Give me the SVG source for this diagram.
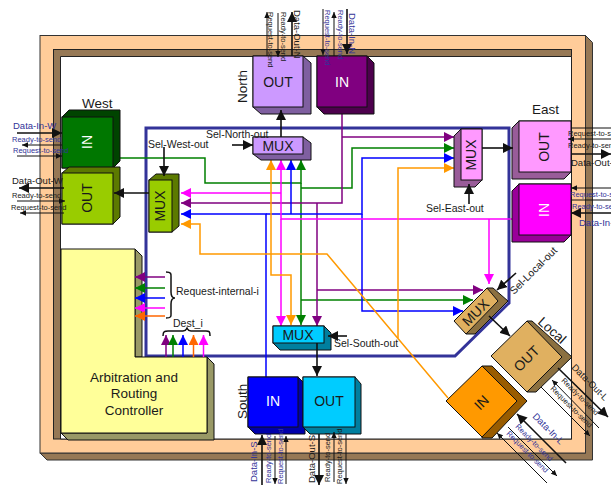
<svg xmlns="http://www.w3.org/2000/svg" width="611" height="485" viewBox="0 0 611 485">
<style>
text{font-family:"Liberation Sans",Arial,sans-serif;fill:#1a1a1a}
.s{font-size:7.5px}.d{font-size:9.500px}.b{fill:#333399}.l{font-size:10.5px}.h{font-size:13.5px}.n{font-size:14px}.m{text-anchor:middle}.w{fill:#fff}
.f,.k{stroke:#111;stroke-width:1}
.wr{fill:none;stroke-width:1.5}
.pu{stroke:#800080}.gr{stroke:#008000}.bl{stroke:#0000ff}.ma{stroke:#ff00ff}.or{stroke:#ff9900}.oo{stroke:#ff6600}
.t{fill:none;stroke:#111;stroke-width:1}.T{fill:none;stroke:#111;stroke-width:1.6}
.br{fill:none;stroke:#111;stroke-width:1.5}
</style>
<defs>
<marker id="ap" markerUnits="userSpaceOnUse" markerWidth="10" markerHeight="10" refX="10" refY="5" orient="auto"><path d="M0 0L10 5L0 10z" fill="#800080"/></marker>
<marker id="ag" markerUnits="userSpaceOnUse" markerWidth="10" markerHeight="10" refX="10" refY="5" orient="auto"><path d="M0 0L10 5L0 10z" fill="#008000"/></marker>
<marker id="ab" markerUnits="userSpaceOnUse" markerWidth="10" markerHeight="10" refX="10" refY="5" orient="auto"><path d="M0 0L10 5L0 10z" fill="#0000ff"/></marker>
<marker id="am" markerUnits="userSpaceOnUse" markerWidth="10" markerHeight="10" refX="10" refY="5" orient="auto"><path d="M0 0L10 5L0 10z" fill="#ff00ff"/></marker>
<marker id="ao" markerUnits="userSpaceOnUse" markerWidth="10" markerHeight="10" refX="10" refY="5" orient="auto"><path d="M0 0L10 5L0 10z" fill="#ff9900"/></marker>
<marker id="aO" markerUnits="userSpaceOnUse" markerWidth="10" markerHeight="10" refX="10" refY="5" orient="auto"><path d="M0 0L10 5L0 10z" fill="#ff6600"/></marker>
<marker id="a" markerUnits="userSpaceOnUse" markerWidth="6" markerHeight="6" refX="6" refY="3" orient="auto"><path d="M0 .3L6 3L0 5.7z" fill="#111"/></marker>
<marker id="A" markerUnits="userSpaceOnUse" markerWidth="10" markerHeight="10" refX="10" refY="5" orient="auto"><path d="M0 0L10 5L0 10z" fill="#111"/></marker>
</defs>
<rect width="611" height="485" fill="#fff"/>
<g id="frame">
<path d="M585.500 35.500L592.500 42.500V460H47L40 453H585.500z" fill="#967855" stroke="#333"/>
<rect x="40" y="35.500" width="545.500" height="417.500" fill="#ffcc99" stroke="#333"/>
<rect x="53.500" y="49.500" width="518" height="389.500" fill="#967855" stroke="#222"/>
<path d="M60.500 56.500H571.500V439H60.500z" fill="#fff" stroke="#222"/>
</g>
<path id="switch-border" d="M146 128H509V303L455 356H146z" fill="none" stroke="#333399" stroke-width="3"/>
<g id="controller">
<path d="M135 249L142 256V357H135zM207 357L214 364V440H68L61 433H207z" fill="#999966" stroke="#111"/>
<path d="M61 249H135V357H207V433H61z" fill="#ffff99" stroke="#111"/>
<text class="h m" x="134" y="382">Arbitration and</text>
<text class="h m" x="134" y="398">Routing</text>
<text class="h m" x="134" y="415">Controller</text>
</g>
<g id="connectors">
<path class="wr gr" d="M118 158H205V183H301V160" marker-end="url(#ag)"/>
<path class="wr gr" d="M301 183V325" marker-end="url(#ag)"/>
<path class="wr gr" d="M301 188H352V148H454" marker-end="url(#ag)"/>
<path class="wr gr" d="M301 300H473" marker-end="url(#ag)"/>
<path class="wr pu" d="M342 114V203H181" marker-end="url(#ap)"/>
<path class="wr pu" d="M342 137H454" marker-end="url(#ap)"/>
<path class="wr pu" d="M317 203V326" marker-end="url(#ap)"/>
<path class="wr pu" d="M317 290H483" marker-end="url(#ap)"/>
<path class="wr bl" d="M266 377V214H181" marker-end="url(#ab)"/>
<path class="wr bl" d="M266 214H362V158H454" marker-end="url(#ab)"/>
<path class="wr bl" d="M291 214V160" marker-end="url(#ab)"/>
<path class="wr bl" d="M362 214V311H463" marker-end="url(#ab)"/>
<path class="wr ma" d="M512 219H281V160" marker-end="url(#am)"/>
<path class="wr ma" d="M281 193H181" marker-end="url(#am)"/>
<path class="wr ma" d="M281 219V326" marker-end="url(#am)"/>
<path class="wr ma" d="M489 219V284" marker-end="url(#am)"/>
<path class="wr or" d="M448 398L327 254H200V224H181" marker-end="url(#ao)"/>
<path class="wr or" d="M271 254V160" marker-end="url(#ao)"/>
<path class="wr or" d="M271 254V275H291V325" marker-end="url(#ao)"/>
<path class="wr or" d="M398 338V168H454" marker-end="url(#ao)"/>
<path class="wr pu" d="M165 277H135" marker-end="url(#ap)"/>
<path class="wr gr" d="M165 288H135" marker-end="url(#ag)"/>
<path class="wr bl" d="M165 298H135" marker-end="url(#ab)"/>
<path class="wr ma" d="M165 308H135" marker-end="url(#am)"/>
<path class="wr oo" d="M165 316H135" marker-end="url(#aO)"/>
<path class="wr pu" d="M166 357V335" marker-end="url(#ap)"/>
<path class="wr gr" d="M173 357V335" marker-end="url(#ag)"/>
<path class="wr bl" d="M183 357V335" marker-end="url(#ab)"/>
<path class="wr oo" d="M193.500 357V335" marker-end="url(#aO)"/>
<path class="wr ma" d="M203.500 357V335" marker-end="url(#am)"/>
</g>
<g id="west-in">
<path class="k" d="M62 117L69 110H120V161L113 168H62z" fill="#004400"/><rect class="f" x="62" y="117" width="51" height="51" fill="#007700"/>
<text class="n m w" transform="translate(92,142) rotate(-90)">IN</text>
</g>
<g id="west-out">
<path class="k" d="M62 173L69 167H120V217L113 224H62z" fill="#5c7a00"/><rect class="f" x="62" y="173" width="51" height="51" fill="#99cc00"/>
<text class="n m" transform="translate(92,198) rotate(-90)">OUT</text>
</g>
<g id="west-mux">
<path class="k" d="M149 180L156 174H179V226L172 232H149z" fill="#5c7a00"/><rect class="f" x="149" y="180" width="23" height="52" fill="#99cc00"/>
<text class="n m" transform="translate(165,206) rotate(-90)">MUX</text>
</g>
<g id="north-out">
<path class="k" d="M253 56H303L311 63V114H261L253 107z" fill="#7f5fa0"/><rect class="f" x="253" y="56" width="50" height="51" fill="#cc99ff"/>
<text class="n m" x="278" y="87">OUT</text>
</g>
<g id="north-in">
<path class="k" d="M317 56H367L374 63V114H324L317 107z" fill="#4d004d"/><rect class="f" x="317" y="56" width="50" height="51" fill="#800080"/>
<text class="n m w" x="342" y="87">IN</text>
</g>
<g id="north-mux">
<path class="k" d="M253 137H303L311 143V160H261L253 154z" fill="#7f5fa0"/><rect class="f" x="253" y="137" width="50" height="17" fill="#cc99ff"/>
<text class="n m" x="278" y="151">MUX</text>
</g>
<g id="east-out">
<path class="k" d="M519 121L512 128V179H564L571 172V121z" fill="#995c99"/><rect class="f" x="519" y="121" width="52" height="51" fill="#ff99ff"/>
<text class="n m" transform="translate(549,147) rotate(-90)">OUT</text>
</g>
<g id="east-in">
<path class="k" d="M519 184L512 191V242H564L571 235V184z" fill="#990099"/><rect class="f" x="519" y="184" width="52" height="51" fill="#ff00ff"/>
<text class="n m w" transform="translate(549,210) rotate(-90)">IN</text>
</g>
<g id="east-mux">
<path class="k" d="M461 129L454 136V187H475L482 180V129z" fill="#995c99"/><rect class="f" x="461" y="129" width="21" height="51" fill="#ff99ff"/>
<text class="n m" transform="translate(476,155) rotate(-90)">MUX</text>
</g>
<g id="south-mux">
<path class="k" d="M273 326H324L331 333V350H280L273 343z" fill="#007f9f"/><rect class="f" x="273" y="326" width="51" height="17" fill="#00ccff"/>
<text class="n m" x="298" y="340">MUX</text>
</g>
<g id="south-in">
<path class="k" d="M248 377H298L305 384V434H255L248 427z" fill="#0000aa"/><rect class="f" x="248" y="377" width="50" height="50" fill="#0000ff"/>
<text class="n m w" x="273" y="406">IN</text>
</g>
<g id="south-out">
<path class="k" d="M303 377H355L361 384V434H310L303 427z" fill="#007f9f"/><rect class="f" x="303" y="377" width="52" height="50" fill="#00ccff"/>
<text class="n m" x="329" y="406">OUT</text>
</g>
<g id="local-mux">
<path class="k" d="M487 288H493L508 301L475 334H466z" fill="#8b7040"/><path class="f" d="M454 321L487 288L498 301L466 334z" fill="#e0b060"/>
<text class="n m" transform="translate(479,316) rotate(-45)">MUX</text>
</g>
<g id="local-out">
<path class="k" d="M527 321H532L572 357L536 392H527z" fill="#8b7040"/><path class="f" d="M491 356L527 321L562 357L527 392z" fill="#e0b060"/>
<text class="n m" transform="translate(530,362) rotate(-45)">OUT</text>
</g>
<g id="local-in">
<path class="k" d="M482 366H492L527 401L492 438H482z" fill="#995c00"/><path class="f" d="M446 401L482 366L517 401L482 437z" fill="#ff9900"/>
<text class="n m" transform="translate(485,406) rotate(-45)">IN</text>
</g>
<g id="control-arrows">
<path class="T" d="M281 137V110" marker-end="url(#A)"/>
<path class="T" d="M232 145H253" marker-end="url(#A)"/>
<path class="T" d="M164 147V176" marker-end="url(#A)"/>
<path class="T" d="M149 193H114" marker-end="url(#A)"/>
<path class="T" d="M482 148H513" marker-end="url(#A)"/>
<path class="T" d="M469 204V184" marker-end="url(#A)"/>
<path class="T" d="M317 343V376" marker-end="url(#A)"/>
<path class="T" d="M347 336H328" marker-end="url(#A)"/>
<path class="T" d="M516 273L497 290" marker-end="url(#A)"/>
<path class="T" d="M489 316L510 336" marker-end="url(#A)"/>
<path class="br" d="M166 272C172 272 171 274 171 279V292C171 296 172 298 175 298C172 298 171 300 171 304V312C171 316 172 318 166 318"/>
<path class="br" d="M163 336C163 331 165 331 168 331H183C186 331 186 330 187 328C188 330 188 331 191 331H206C209 331 210 331 210 336"/>
</g>
<g id="ports-west">
<text class="d b" x="13" y="129">Data-In-W</text><path class="T" d="M17 133H62" marker-end="url(#A)"/>
<text class="s b" x="12" y="142">Ready-to-send</text><path class="t" d="M62 145H22" marker-end="url(#a)"/>
<text class="s b" x="13" y="153">Request-to-send</text><path class="t" d="M17 156H62" marker-end="url(#a)"/>
<text class="d" x="12" y="184">Data-Out-W</text><path class="T" d="M64 188H19" marker-end="url(#A)"/>
<text class="s" x="12" y="198">Ready-to-send</text><path class="t" d="M17 201H65" marker-end="url(#a)"/>
<text class="s" x="11" y="210">Request-to-send</text><path class="t" d="M64 213H20" marker-end="url(#a)"/>
</g>
<g id="ports-north">
<path class="t" d="M267 56V12" marker-end="url(#a)"/><text class="s" transform="translate(268,12) rotate(90)">Request-to-send</text>
<path class="t" d="M278 13V57" marker-end="url(#a)"/><text class="s" transform="translate(281,12) rotate(90)">Ready-to-send</text>
<path class="T" d="M292 56V12" marker-end="url(#A)"/><text class="d" transform="translate(294,10) rotate(90)">Data-Out-N</text>
<path class="t" d="M323 9V55" marker-end="url(#a)"/><text class="s b" transform="translate(325,10) rotate(90)">Request-to-send</text>
<path class="t" d="M334 56V12" marker-end="url(#a)"/><text class="s b" transform="translate(338,10) rotate(90)">Ready-to-send</text>
<path class="T" d="M347 9V54" marker-end="url(#A)"/><text class="d b" transform="translate(349,13) rotate(90)">Data-In-N</text>
</g>
<g id="ports-east">
<path class="t" d="M571 128H611"/><text class="s" x="568" y="136">Request-to-send</text>
<path class="t" d="M611 139H568" marker-end="url(#a)"/><text class="s" x="568" y="148">Ready-to-send</text>
<path class="T" d="M571 154H611"/><path d="M601 149L611 154L601 159z" fill="#111"/><text class="d" x="571" y="166">Data-Out-E</text>
<path class="t" d="M611 188H571" marker-end="url(#a)"/><text class="s b" x="570" y="197">Request-to-send</text>
<path class="t" d="M571 200H611"/><text class="s b" x="572" y="209">Ready-to-send</text>
<path class="T" d="M611 213H571" marker-end="url(#A)"/><text class="d b" x="579" y="226">Data-In-E</text>
</g>
<g id="ports-south">
<path class="T" d="M262 485V435" marker-end="url(#A)"/><text class="d b" transform="translate(257,482) rotate(-90)">Data-In-S</text>
<path class="t" d="M275 436V484" marker-end="url(#a)"/><text class="s b" transform="translate(271,483) rotate(-90)">Ready-to-send</text>
<path class="t" d="M286 484V436" marker-end="url(#a)"/><text class="s b" transform="translate(283,484) rotate(-90)">Request-to-send</text>
<path class="T" d="M319 434V485" marker-end="url(#A)"/><text class="d" transform="translate(315,483) rotate(-90)">Data-Out-S</text>
<path class="t" d="M334 482V432" marker-end="url(#a)"/><text class="s" transform="translate(330,482) rotate(-90)">Ready-to-send</text>
<path class="t" d="M346 434V484" marker-end="url(#a)"/><text class="s" transform="translate(342,484) rotate(-90)">Request-to-send</text>
</g>
<g id="ports-local">
<path class="T" d="M558 368L608 417" marker-end="url(#A)"/><text class="d" transform="translate(571,368) rotate(45)">Data-Out-L</text>
<path class="t" d="M599 428L552 380" marker-end="url(#a)"/><text class="s" transform="translate(561,381) rotate(45)">Ready-to-send</text>
<path class="t" d="M541 387L590 436" marker-end="url(#a)"/><text class="s" transform="translate(550,389) rotate(45)">Request-to-send</text>
<path class="T" d="M566 463L517 414" marker-end="url(#A)"/><text class="d b" transform="translate(532,417) rotate(45)">Data-In-L</text>
<path class="t" d="M508 427L557 476" marker-end="url(#a)"/><text class="s b" transform="translate(515,427) rotate(45)">Ready-to-send</text>
<path class="t" d="M547 483L497 433" marker-end="url(#a)"/><text class="s b" transform="translate(506,434) rotate(45)">Request-to-send</text>
</g>
<g id="labels">
<text class="h" x="82" y="108">West</text>
<text class="h" x="532" y="114">East</text>
<text class="h" transform="translate(247,103) rotate(-90)">North</text>
<text class="h" transform="translate(247,419) rotate(-90)">South</text>
<text class="h" transform="translate(537,323) rotate(42)">Local</text>
<text class="l" x="206" y="138">Sel-North-out</text>
<text class="l" x="148" y="148">Sel-West-out</text>
<text class="l" x="426" y="212">Sel-East-out</text>
<text class="l" x="334" y="347">Sel-South-out</text>
<text class="l" transform="translate(514,295) rotate(-45)">Sel-Local-out</text>
<text class="l" x="176" y="295">Request-internal-i</text>
<text class="l" x="173" y="327">Dest_i</text>
</g>
</svg>
